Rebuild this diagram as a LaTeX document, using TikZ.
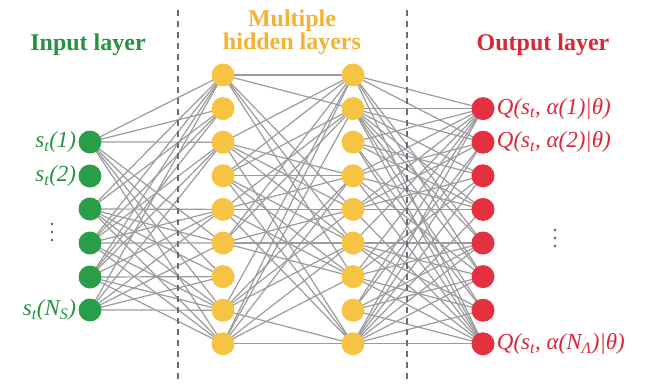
\documentclass[tikz,border=0pt]{standalone}
\usepackage{fontspec}
\setmainfont{Liberation Serif}
\usetikzlibrary{backgrounds}
\definecolor{ingreen}{RGB}{42,157,72}
\definecolor{intext}{RGB}{40,145,65}
\definecolor{hidyel}{RGB}{247,195,67}
\definecolor{hidtext}{RGB}{242,178,51}
\definecolor{outred}{RGB}{229,48,63}
\definecolor{outtext}{RGB}{217,38,56}
\definecolor{edgegray}{RGB}{155,155,158}
\definecolor{dashcol}{RGB}{100,110,130}
\newcommand\sbt[1]{\textsubscript{#1}}
\tikzset{
  neuron/.style={circle,minimum size=23pt,inner sep=0pt,draw=none},
  inneuron/.style={neuron,fill=ingreen},
  hidneuron/.style={neuron,fill=hidyel},
  outneuron/.style={neuron,fill=outred},
  conn/.style={draw=edgegray,line width=1.2pt},
  divider/.style={draw=dashcol,line width=1.5pt,dash pattern=on 6pt off 5pt},
  title/.style={font=\fontsize{24}{25}\selectfont\bfseries,align=center},
  lab/.style={font=\fontsize{23}{25}\selectfont\itshape,inner sep=2pt},
  vdot/.style={circle,fill=black!65,minimum size=2.6pt,inner sep=0pt}
}
\begin{document}
\begin{tikzpicture}[x=1pt,y=-1pt]
\useasboundingbox (0,0) rectangle (656,383);
% dividers
\coordinate (d1t) at (178,10); \coordinate (d1b) at (178,383);
\coordinate (d2t) at (407,10); \coordinate (d2b) at (407,383);
\draw[divider] (d1t) -- (d1b);
\draw[divider] (d2t) -- (d2b);
% input nodes
\foreach \i/\y in {1/142,2/176,3/209,4/243,5/277,6/310}
  \node[inneuron] (in\i) at (90,\y) {};
% hidden nodes
\foreach \j in {1,...,9} {
  \pgfmathsetmacro\yy{75+33.6*(\j-1)}
  \node[hidneuron] (ha\j) at (223,\yy) {};
  \node[hidneuron] (hb\j) at (353,\yy) {};
}
% output nodes
\foreach \k in {1,...,8} {
  \pgfmathsetmacro\yy{108.6+33.6*(\k-1)}
  \node[outneuron] (out\k) at (483,\yy) {};
}
% connections
\begin{pgfonlayer}{background}
\foreach \i in {1,...,6} \foreach \j in {1,...,9} {
  \pgfmathtruncatemacro\r{mod(3*\i+5*\j+\i*\j,7)}
  \ifnum\r<5 \draw[conn] (in\i.center) -- (ha\j.center); \fi
}
\foreach \a in {1,...,9} \foreach \b in {1,...,9} {
  \pgfmathtruncatemacro\r{mod(2*\a+3*\b+\a*\b,5)}
  \ifnum\r<3 \draw[conn] (ha\a.center) -- (hb\b.center); \fi
}
\draw[conn] (ha1.center) -- (hb1.center);
\foreach \b in {1,...,9} \foreach \k in {1,...,8} {
  \pgfmathtruncatemacro\r{mod(5*\b+3*\k+2*\b*\k,7)}
  \ifnum\r<4 \draw[conn] (hb\b.center) -- (out\k.center); \fi
}
\end{pgfonlayer}
% titles
\node[title,text=intext] (tin) at (88,45) {Input layer};
\node[title,text=hidtext] (thid) at (292,32) {Multiple\\[-2pt]hidden layers};
\node[title,text=outtext] (tout) at (543,45) {Output layer};
% input labels
\node[lab,text=intext,anchor=east] (lin1) at (in1.west) {s\sbt{t}(1)};
\node[lab,text=intext,anchor=east] (lin2) at (in2.west) {s\sbt{t}(2)};
\node[lab,text=intext,anchor=east] (lin6) at (in6.west) {s\sbt{t}(N\sbt{S})};
\node[vdot] (ld1) at (52,224) {};
\node[vdot] (ld2) at (52,232) {};
\node[vdot] (ld3) at (52,240) {};
% output labels
\node[lab,text=outtext,anchor=west] (lout1) at (out1.east) {Q(s\sbt{t}, α(1)|θ)};
\node[lab,text=outtext,anchor=west] (lout2) at (out2.east) {Q(s\sbt{t}, α(2)|θ)};
\node[lab,text=outtext,anchor=west] (lout8) at (out8.east) {Q(s\sbt{t}, α(N\sbt{Λ})|θ)};
\node[vdot] (rd1) at (555,230) {};
\node[vdot] (rd2) at (555,238) {};
\node[vdot] (rd3) at (555,246) {};
\end{tikzpicture}
\end{document}
